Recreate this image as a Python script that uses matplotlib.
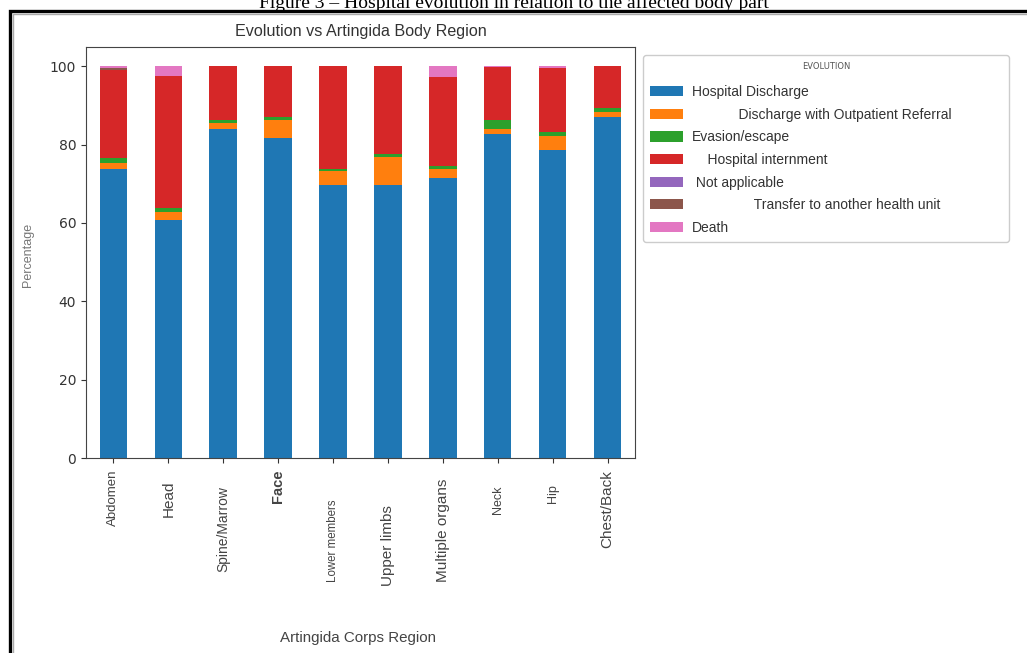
import matplotlib
matplotlib.use("Agg")
import matplotlib.pyplot as plt
from matplotlib.patches import Rectangle
from matplotlib.transforms import ScaledTranslation
import numpy as np

# Share (%) of each hospital outcome per affected body region
regions = ["Abdomen", "Head", "Spine/Marrow", "Face", "Lower members",
           "Upper limbs", "Multiple organs", "Neck", "Hip", "Chest/Back"]
hospital_discharge = [73.9, 60.7, 83.9, 81.8, 69.8, 69.8, 71.5, 82.6, 78.6, 87.0]
outpatient_referral = [1.3, 2.0, 1.5, 4.4, 3.4, 7.1, 2.2, 1.5, 3.6, 1.4]
evasion = [1.5, 1.0, 1.0, 0.8, 0.6, 0.8, 0.8, 2.3, 1.0, 0.9]
internment = [22.4, 33.8, 13.6, 13.0, 26.2, 22.3, 22.8, 13.3, 16.3, 10.7]
not_applicable = [0.0, 0.0, 0.0, 0.0, 0.0, 0.0, 0.0, 0.0, 0.0, 0.0]
transfer = [0.5, 0.0, 0.0, 0.0, 0.0, 0.0, 0.0, 0.0, 0.0, 0.0]
death = [0.4, 2.5, 0.0, 0.0, 0.0, 0.0, 2.7, 0.3, 0.5, 0.0]

series = [hospital_discharge, outpatient_referral, evasion, internment,
          not_applicable, transfer, death]
legend_labels = ["Hospital Discharge",
                 "            Discharge with Outpatient Referral",
                 "Evasion/escape",
                 "    Hospital internment",
                 " Not applicable",
                 "                Transfer to another health unit                ",
                 "Death"]
colors = ["#1f77b4", "#ff7f0e", "#2ca02c", "#d62728", "#9467bd", "#8c564b", "#e377c2"]

# per-label font sizes, weights and downward shifts (pt) for the region names
tick_sizes = [9.5, 11, 10, 10.5, 8.3, 11, 11, 9, 9, 11]
tick_weights = ["normal", "normal", "normal", "bold", "normal",
                "normal", "normal", "normal", "normal", "normal"]
tick_shift = [1, 9, 13, 1, 23, 27, 8, 13, 12, 2]

fig = plt.figure(figsize=(10.27, 6.53), dpi=100)
ax = fig.add_axes([0.0837, 0.2986, 0.5346, 0.6299])

x = np.arange(len(regions))
bottom = np.zeros(len(regions))
for vals, lab, col in zip(series, legend_labels, colors):
    ax.bar(x, vals, 0.5, bottom=bottom, color=col, label=lab)
    bottom += np.array(vals)

ax.set_xlim(-0.5, len(regions) - 0.5)
ax.set_ylim(0, 105)
ax.set_yticks([0, 20, 40, 60, 80, 100])
ax.tick_params(axis="y", labelsize=10, colors="#333333")
ax.tick_params(axis="x", colors="#333333")
ax.set_xticks(x)
ax.set_xticklabels(regions, rotation=90)
for t, s, w, d in zip(ax.get_xticklabels(), tick_sizes, tick_weights, tick_shift):
    t.set_fontsize(s)
    t.set_fontweight(w)
    t.set_family("Liberation Sans")
    t.set_color("#444444")
    t.set_transform(t.get_transform() + ScaledTranslation(0, -d / 72, fig.dpi_scale_trans))
for sp in ax.spines.values():
    sp.set_color("#444444")

ax.set_title("Evolution vs Artingida Body Region", fontsize=11.6,
             family="Liberation Sans", color="#333333", pad=8)
fig.text(28 / 1027, 1 - 255 / 653, "Percentage", rotation=90, fontsize=9,
         color="#777777", family="Liberation Sans", ha="center", va="center")
fig.text(358 / 1027, 1 - 638 / 653, "Artingida Corps Region", fontsize=10.9,
         color="#444444", family="Liberation Sans", ha="center", va="center")

leg = fig.legend(loc="upper left", bbox_to_anchor=(643 / 1027, 1 - 55 / 653),
                 borderaxespad=0, title="EVOLUTION", title_fontsize=6,
                 prop={"family": "Liberation Sans", "size": 10},
                 handlelength=2.4, handleheight=0.75, handletextpad=0.6,
                 labelspacing=0.62, borderpad=0.5, fancybox=True,
                 framealpha=1, edgecolor="#cccccc")
# extra gap between the legend title and the entries
leg._legend_box.sep = 0.62 * 10 + 4
for t in leg.get_texts():
    t.set_color("#333333")
leg.get_title().set_color("#555555")

# caption above the framed figure, partly clipped by the image edge
fig.text(0.5, 1 - 3.5 / 653, "Figure 3 – Hospital evolution in relation to the affected body part",
         family="Liberation Serif", fontsize=14, ha="center", va="center")

# outer frame around the plot
fig.add_artist(Rectangle((9.5 / 1027, -0.1), 1.2, 1.1 - 11.5 / 653,
                         transform=fig.transFigure, fill=False,
                         edgecolor="black", linewidth=2.4))
fig.add_artist(Rectangle((12.5 / 1027, -0.1), 1.2, 1.1 - 14.5 / 653,
                         transform=fig.transFigure, fill=False,
                         edgecolor="#aaaaaa", linewidth=1.0))

fig.savefig("out.png", dpi=100)
